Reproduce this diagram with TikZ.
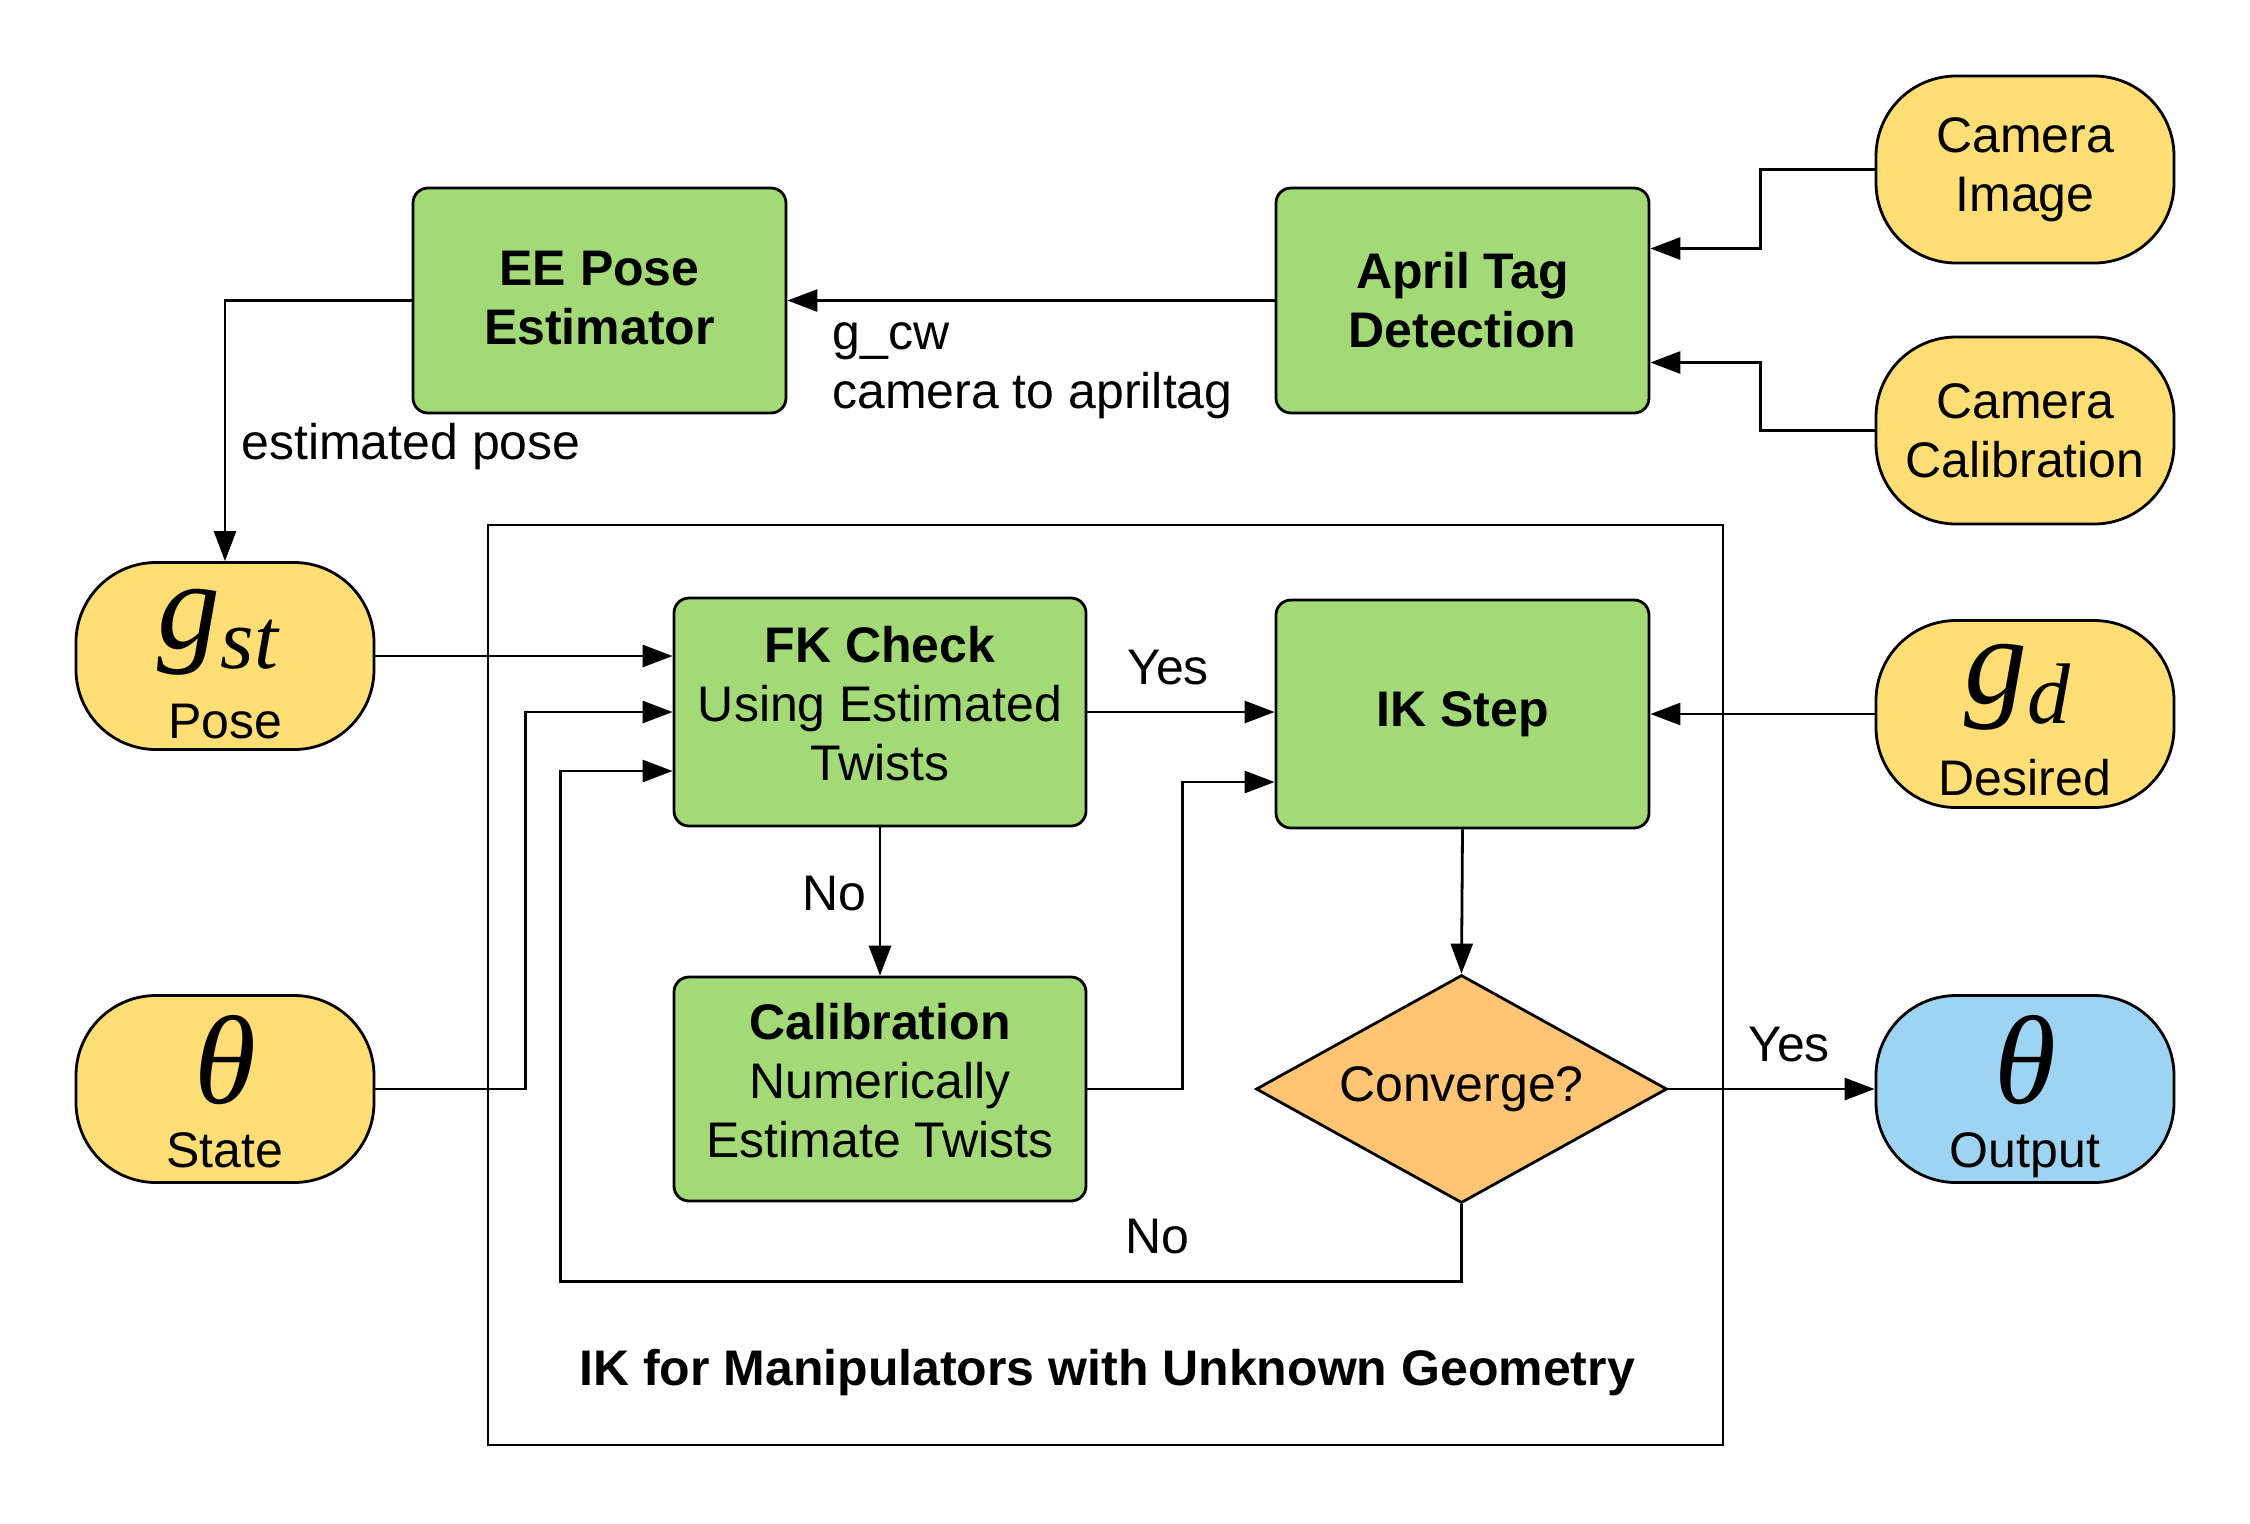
\documentclass[tikz,border=0pt]{standalone}
\usepackage{fontspec}
\setmainfont{Liberation Sans}
\newfontfamily\mathserif{Liberation Serif}
\usetikzlibrary{arrows.meta,calc,shapes.geometric}
\definecolor{gfill}{HTML}{A3D977}
\definecolor{yfill}{HTML}{FFDE75}
\definecolor{ofill}{HTML}{FFC574}
\definecolor{bfill}{HTML}{9ED3F1}
\tikzset{
  every node/.style={font=\fontsize{25}{29.5}\selectfont, inner sep=0pt},
  bf/.style={font=\bfseries\fontsize{25}{29.5}\selectfont},
  boxg/.style={draw, line width=1.4pt, fill=gfill, rounded corners=7.5pt, minimum width=186.5pt, minimum height=112.5pt, align=center},
  pill/.style={draw, line width=1.4pt, fill=yfill, rounded corners=40pt, minimum width=149pt, minimum height=93.5pt, align=center},
  dia/.style={draw, line width=1.4pt, fill=ofill, diamond, shape aspect=1.8, minimum width=205.5pt, minimum height=114pt},
  frame/.style={draw, line width=1.4pt, minimum width=617.5pt, minimum height=460pt},
  arr/.style={line width=1.4pt, -{Triangle[length=15pt,width=11pt]}},
  mathbig/.style={font=\mathserif\itshape\fontsize{63}{63}\selectfont, anchor=base},
}
\newcommand{\subsz}[1]{\raisebox{-10pt}{\fontsize{43}{43}\selectfont #1}}
\newcommand{\lift}{\rule[-9pt]{0pt}{1pt}}
\begin{document}
\begin{tikzpicture}[x=0.5pt,y=-0.5pt]
\useasboundingbox (0,0) rectangle (2250,1523);
% frame
\node[frame] (frame) at (1105.5,985) {};
% boxes
\node[boxg,bf] (ee) at (599.5,300.5) {EE Pose\\Estimator\rule[-3pt]{0pt}{1pt}};
\node[boxg,bf] (april) at (1462.5,300.5) {April Tag\\Detection};
\node[pill] (camimg) at (2025,169.5) {Camera\\Image};
\node[pill] (camcal) at (2025,430.5) {Camera\\Calibration};
\node[pill] (gst) at (225,656) {};
\node[pill] (state) at (225,1089) {};
\node[pill] (gd) at (2025,714) {};
\node[pill, fill=bfill] (out) at (2025,1089) {};
\node[boxg, minimum width=206pt, minimum height=114pt] (fk) at (880,712) {\textbf{FK Check}\\Using Estimated\\Twists\lift};
\node[boxg, minimum width=206pt, minimum height=112pt] (cal) at (880,1089) {\textbf{Calibration}\\Numerically\\Estimate Twists\lift};
\node[boxg, bf, minimum height=114pt] (ik) at (1462.5,714) {IK Step};
\node[dia] (conv) at (1461.5,1089) {Converge?};
% symbols and labels in pills
\node[mathbig] (gstsym) at (218,648) {g\subsz{st}};
\node[anchor=base] (gstlbl) at (225,738) {Pose};
\node[mathbig] (statesym) at (225,1103) {θ};
\node[anchor=base] (statelbl) at (225,1167) {State};
\node[mathbig] (gdsym) at (2017,703) {g\subsz{d}};
\node[anchor=base] (gdlbl) at (2025,795) {Desired};
\node[mathbig] (outsym) at (2025,1103) {θ};
\node[anchor=base] (outlbl) at (2025,1167) {Output};
% edge labels
\node[anchor=west, align=left] (cwlbl) at (832,371) {g\_cw\\camera to apriltag};
\node[anchor=west] (eplbl) at (241,447) {estimated pose};
\node (yes1) at (1168,668) {Yes};
\node (no1) at (834,894) {No};
\node (no2) at (1157,1237) {No};
\node (yes2) at (1789,1045) {Yes};
\node[bf] (title) at (1107,1373) {IK for Manipulators with Unknown Geometry};
% connectors
\draw[arr] (april.west) -- (ee.east);
\draw[arr] (ee.west) -| (gst.north);
\draw[arr] (camimg.west) -- ++(-114,0) |- ([yshift=26pt]april.east);
\draw[arr] (camcal.west) -- ++(-114,0) |- ([yshift=-31pt]april.east);
\draw[arr] (gst.east) -- (gst.east -| fk.west);
\draw[arr] (state.east) -- ++(150,0) |- (fk.west);
\draw[arr] (conv.south) -- ++(0,77) -| ([xshift=-56pt,yshift=-29.5pt]fk.west) -- ([yshift=-29.5pt]fk.west);
\draw[arr] (fk.east) -- (fk.east -| ik.west);
\draw[arr] (fk.south) -- (cal.north);
\draw[arr] (cal.east) -- ++(95,0) |- ([yshift=-34pt]ik.west);
\draw[arr] (gd.west) -- (ik.east);
\draw[arr] (ik.south) -- (conv.north);
\draw[arr] (conv.east) -- (out.west);
\end{tikzpicture}
\end{document}
